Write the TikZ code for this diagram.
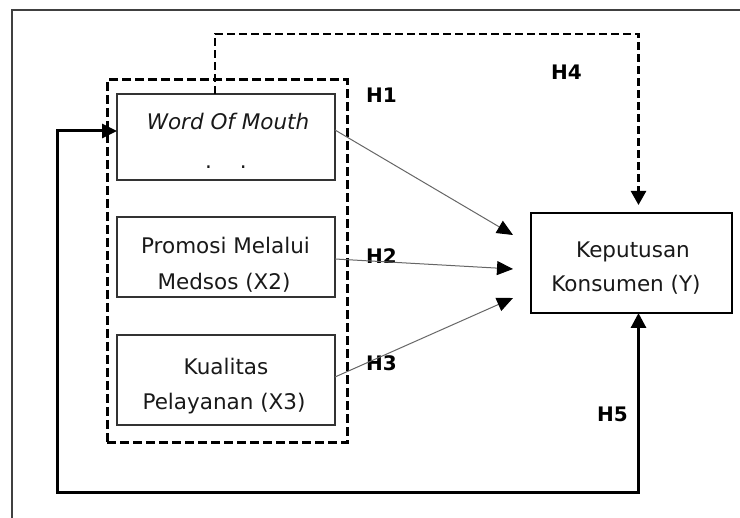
\documentclass[tikz,border=0pt]{standalone}
\usepackage{fontspec}
\setmainfont{DejaVu Sans}
\usetikzlibrary{arrows.meta}
\begin{document}
\begin{tikzpicture}[x=1pt,y=-1pt,
  box/.style={draw=black!80,line width=1.3pt,inner sep=0pt,outer sep=0pt},
  grpbox/.style={draw=black,line width=3pt,dash pattern=on 9pt off 4pt,inner sep=0pt,outer sep=0pt},
  txt/.style={anchor=base,inner sep=0pt,text=black!90,font=\fontsize{21.5}{25}\selectfont},
  hl/.style={anchor=base west,inner sep=0pt,font=\bfseries\fontsize{20}{22}\selectfont},
  thinarrow/.style={draw=black!60,line width=1pt,-{Triangle[length=16pt,width=14pt,black]}},
  hfour/.style={draw=black,line width=2.5pt,dash pattern=on 8pt off 4pt,-{Triangle[length=14pt,width=15pt]}},
  hfive/.style={draw=black,line width=3pt,{Triangle[length=15pt,width=15pt]}-{Triangle[length=15pt,width=14pt]}}]
\useasboundingbox (0,0) rectangle (740,518);
% frame
\draw[black!75,line width=1.5pt] (740,10) -- (12,10) -- (12,518);
% boxes
\node[box,minimum width=218pt,minimum height=86pt] (wom) at (226,137) {};
\node[box,minimum width=218pt,minimum height=80pt] (pro) at (226,257) {};
\node[box,minimum width=218pt,minimum height=90pt] (kua) at (226,380) {};
\node[box,draw=black,minimum width=201pt,minimum height=100pt] (kep) at (631.5,263) {};
\node[grpbox,minimum width=240pt,minimum height=363pt] (grp) at (227,261.5) {};
% texts
\node[txt,font=\itshape\fontsize{21.5}{25}\selectfont] (t1) at (228,130) {Word Of Mouth};
\node[txt] (t1b) at (226,169) {.\hspace{28pt}.};
\node[txt] (t2a) at (225.5,254) {Promosi Melalui};
\node[txt] (t2b) at (224,290) {Medsos (X2)};
\node[txt] (t3a) at (226,375) {Kualitas};
\node[txt] (t3b) at (224,410) {Pelayanan (X3)};
\node[txt] (t4a) at (633,258) {Keputusan};
\node[txt] (t4b) at (626,292) {Konsumen (Y)};
% hypothesis labels
\node[hl] (h1) at (366,103) {H1};
\node[hl] (h2) at (366,264) {H2};
\node[hl] (h3) at (366,371) {H3};
\node[hl] (h4) at (551,80) {H4};
\node[hl] (h5) at (597,422) {H5};
% connectors
\coordinate (c5) at (57,493);
\draw[thinarrow] ([yshift=7pt]wom.east) -- ([xshift=-18pt,yshift=28pt]kep.west);
\draw[thinarrow] ([yshift=-2pt]pro.east) -- ([xshift=-18pt,yshift=-6pt]kep.west);
\draw[thinarrow] ([yshift=3pt]kua.east) -- ([xshift=-18pt,yshift=-35pt]kep.west);
\draw[hfour] ([xshift=-11pt]wom.north) -- ++(0,-60) -| ([xshift=7pt,yshift=8pt]kep.north);
\draw[hfive] ([xshift=7pt]kep.south) |- (c5) |- ([yshift=6pt]wom.west);
\end{tikzpicture}
\end{document}
